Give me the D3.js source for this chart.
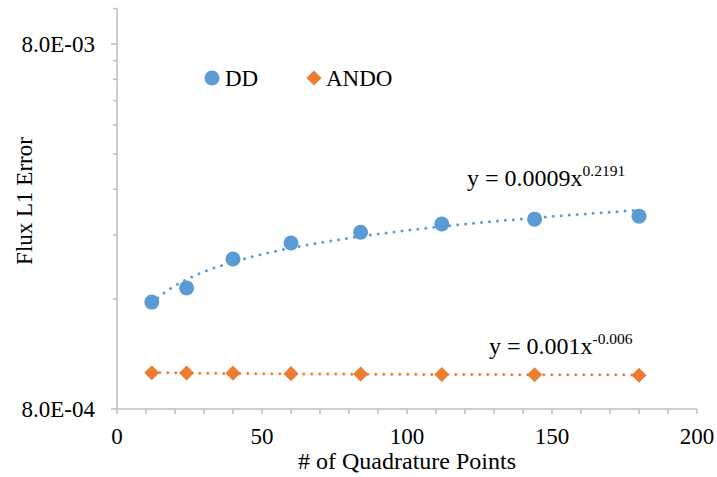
<!DOCTYPE html>
<html>
<head>
<meta charset="utf-8">
<script src="https://cdn.jsdelivr.net/npm/d3@7"></script>
<style>
  html, body { margin: 0; padding: 0; background: #fff; }
</style>
</head>
<body>
<div id="chart"></div>
<script>
const quadPoints = [12, 24, 40, 60, 84, 112, 144, 180];
const ddError = [1.57e-3, 1.716e-3, 2.06e-3, 2.28e-3, 2.44e-3, 2.57e-3, 2.65e-3, 2.70e-3];
const andoError = [1.006e-3, 1.004e-3, 1.003e-3, 1.0e-3, 0.997e-3, 0.995e-3, 0.993e-3, 0.990e-3];
const xTicks = [0, 50, 100, 150, 200];
const yTicks = [8e-4, 8e-3];
const yTickLabels = ["8.0E-04", "8.0E-03"];
const ddEquation = ["y = 0.0009x", "0.2191"];
const andoEquation = ["y = 0.001x", "-0.006"];

const width = 717, height = 477;
const blue = "#5B9BD5", orange = "#ED7D31", axisGray = "#BFBFBF";

const svg = d3.select("#chart").append("svg")
  .attr("width", width)
  .attr("height", height)
  .attr("font-family", "'Liberation Serif', 'Times New Roman', 'DejaVu Serif', serif");

const x = d3.scaleLinear().domain([0, 200]).range([117, 697]);
const y = d3.scaleLog().domain([8e-4, 1e-2]).range([409, 8.6]);

// minor ticks on the log axis: 8e-4 * k
const yMinor = d3.range(2, 10).map(k => 8e-4 * k).concat([1e-2]);

const yAxisG = svg.append("g");
yAxisG.append("line")
  .attr("x1", x(0)).attr("x2", x(0))
  .attr("y1", y(1e-2)).attr("y2", y(8e-4))
  .attr("stroke", axisGray).attr("stroke-width", 1.5);
yAxisG.selectAll(".minor")
  .data(yMinor)
  .enter().append("line")
  .attr("x1", x(0) - 4).attr("x2", x(0))
  .attr("y1", d => y(d)).attr("y2", d => y(d))
  .attr("stroke", axisGray).attr("stroke-width", 1.5);
yAxisG.selectAll(".major")
  .data(yTicks)
  .enter().append("line")
  .attr("x1", x(0) - 6).attr("x2", x(0))
  .attr("y1", d => y(d)).attr("y2", d => y(d))
  .attr("stroke", axisGray).attr("stroke-width", 1.5);
yAxisG.selectAll("text")
  .data(yTicks)
  .enter().append("text")
  .attr("x", 95)
  .attr("y", d => y(d) + 8)
  .attr("text-anchor", "end")
  .attr("font-size", "23px")
  .text((d, i) => yTickLabels[i]);

const xAxisG = svg.append("g");
xAxisG.append("line")
  .attr("x1", x(0)).attr("x2", x(200))
  .attr("y1", y(8e-4)).attr("y2", y(8e-4))
  .attr("stroke", axisGray).attr("stroke-width", 1.5);
xAxisG.selectAll(".tick")
  .data(d3.range(0, 201, 10))
  .enter().append("line")
  .attr("x1", d => x(d)).attr("x2", d => x(d))
  .attr("y1", y(8e-4)).attr("y2", y(8e-4) + 5)
  .attr("stroke", axisGray).attr("stroke-width", 1.5);
xAxisG.selectAll("text")
  .data(xTicks)
  .enter().append("text")
  .attr("x", d => x(d))
  .attr("y", 444)
  .attr("text-anchor", "middle")
  .attr("font-size", "23px")
  .text(d => d);

svg.append("text")
  .attr("x", (x(0) + x(200)) / 2 + 0)
  .attr("y", 469)
  .attr("text-anchor", "middle")
  .attr("font-size", "24px")
  .text("# of Quadrature Points");

svg.append("text")
  .attr("transform", "translate(32,201) rotate(-90)")
  .attr("text-anchor", "middle")
  .attr("font-size", "23px")
  .text("Flux L1 Error");

// power trendline fitted on log-log data
function powerFit(xs, ys) {
  const lx = xs.map(Math.log), ly = ys.map(Math.log);
  const mx = d3.mean(lx), my = d3.mean(ly);
  const b = d3.sum(lx, (v, i) => (v - mx) * (ly[i] - my)) / d3.sum(lx, v => (v - mx) ** 2);
  const a = Math.exp(my - b * mx);
  return t => a * Math.pow(t, b);
}

const line = d3.line().x(d => x(d[0])).y(d => y(d[1]));
const trendX = d3.range(quadPoints[0], quadPoints[quadPoints.length - 1] + 0.01, 1);

[[ddError, blue], [andoError, orange]].forEach(([vals, color]) => {
  const f = powerFit(quadPoints, vals);
  svg.append("path")
    .attr("d", line(trendX.map(t => [t, f(t)])))
    .attr("fill", "none")
    .attr("stroke", color)
    .attr("stroke-width", 3)
    .attr("stroke-linecap", "round")
    .attr("stroke-dasharray", "0 8");
});

svg.selectAll(".dd")
  .data(quadPoints)
  .enter().append("circle")
  .attr("cx", d => x(d))
  .attr("cy", (d, i) => y(ddError[i]))
  .attr("r", 7.5)
  .attr("fill", blue);

const diamond = d3.symbol().type(d3.symbolDiamond2).size(145);
svg.selectAll(".ando")
  .data(quadPoints)
  .enter().append("path")
  .attr("d", diamond)
  .attr("transform", (d, i) => `translate(${x(d)},${y(andoError[i])})`)
  .attr("fill", orange);

// equations
function equation(xPos, yPos, parts) {
  const t = svg.append("text")
    .attr("x", xPos).attr("y", yPos)
    .attr("font-size", "24px");
  t.append("tspan").text(parts[0]);
  t.append("tspan").attr("dy", -10).attr("font-size", "15.5px").text(parts[1]);
}
equation(467, 186, ddEquation);
equation(489, 354, andoEquation);

// legend
const legend = svg.append("g");
legend.append("circle").attr("cx", 212).attr("cy", 78).attr("r", 7.5).attr("fill", blue);
legend.append("text").attr("x", 225).attr("y", 86).attr("font-size", "23px").text("DD");
legend.append("path").attr("d", diamond)
  .attr("transform", "translate(314,78)").attr("fill", orange);
legend.append("text").attr("x", 326).attr("y", 86).attr("font-size", "23px").text("ANDO");
</script>
</body>
</html>
